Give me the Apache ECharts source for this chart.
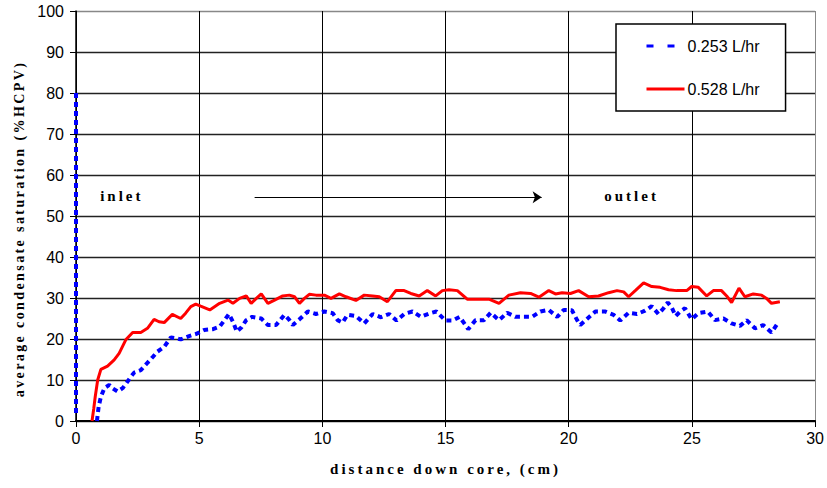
<!DOCTYPE html>
<html>
<head>
<meta charset="utf-8">
<script src="https://cdn.jsdelivr.net/npm/echarts@6/dist/echarts.min.js"></script>
<style>
html,body{margin:0;padding:0;background:#fff;}
#chart{width:827px;height:488px;}
#chart text[style*="Serif"]{letter-spacing:3px;}
#chart text[style*="14px"][style*="Serif"]{letter-spacing:2.4px;}
</style>
</head>
<body>
<div id="chart"></div>
<script>
// ---- data ----
var seriesNames = ['0.253 L/hr', '0.528 L/hr'];
var xTicks = [0, 5, 10, 15, 20, 25, 30];
var yTicks = [0, 10, 20, 30, 40, 50, 60, 70, 80, 90, 100];

var blueX = [0, 0, null, 0.85, 0.92, 1.01, 1.15, 1.35, 1.48, 1.69, 1.89, 2.02, 2.23, 2.36, 2.63, 2.9, 3.1, 3.3, 3.58, 3.85, 4.05, 4.25, 4.59, 4.86, 5.2, 5.56, 5.83, 6.03, 6.21, 6.37, 6.53, 6.71, 6.91, 7.15, 7.52, 7.79, 8.12, 8.46, 8.64, 8.8, 9.07, 9.41, 9.74, 10.08, 10.42, 10.62, 10.82, 11.02, 11.36, 11.7, 12.04, 12.38, 12.71, 13.01, 13.32, 13.66, 14.0, 14.33, 14.63, 15.0, 15.28, 15.57, 15.76, 15.92, 16.22, 16.56, 16.83, 17.17, 17.5, 17.84, 18.18, 18.51, 18.85, 19.19, 19.53, 19.8, 20.13, 20.34, 20.47, 20.74, 21.08, 21.49, 21.82, 22.09, 22.43, 22.77, 23.1, 23.37, 23.64, 23.85, 24.02, 24.18, 24.34, 24.52, 24.72, 24.99, 25.26, 25.64, 25.94, 26.28, 26.61, 26.95, 27.22, 27.56, 27.89, 28.23, 28.47];
var blueY = [80, 1, null, 0, 3.5, 5.9, 8, 8.8, 8, 7.2, 8, 9, 10.8, 11.8, 12.4, 14.2, 15.5, 16.9, 18.1, 20.4, 20.2, 19.9, 20.7, 21.2, 22.2, 22.4, 23, 24.6, 26.1, 24.2, 21.8, 22.8, 24.6, 25.4, 25, 23.4, 23.4, 25.9, 24.8, 23.4, 24.8, 26.7, 26.1, 26.7, 26.3, 24.6, 24, 25.9, 25.6, 23.8, 26.1, 25.3, 26.1, 24.5, 26.1, 26.7, 25.4, 26.2, 26.7, 24.5, 24.5, 25.4, 23.8, 22.4, 24.6, 24.6, 26.4, 24.6, 26.4, 25.4, 25.4, 25.4, 26.7, 27.1, 25.4, 27.1, 27, 24.6, 23.4, 24.9, 26.7, 26.7, 25.9, 24.5, 26.4, 26.1, 26.9, 28, 26.1, 27.5, 28.9, 27.7, 25.6, 26.7, 27.5, 24.8, 26.3, 26.7, 24.6, 25, 23.8, 23.2, 24.6, 22.6, 23.4, 21.6, 23.7];

var redX = [0.65, 0.72, 0.78, 0.88, 1.01, 1.28, 1.55, 1.75, 2.02, 2.3, 2.63, 2.9, 3.17, 3.37, 3.58, 3.91, 4.25, 4.45, 4.66, 4.86, 5.06, 5.43, 5.83, 6.17, 6.37, 6.64, 6.91, 7.11, 7.32, 7.52, 7.79, 8.06, 8.39, 8.66, 8.87, 9.07, 9.27, 9.47, 9.74, 10.08, 10.35, 10.69, 10.96, 11.36, 11.7, 12.04, 12.31, 12.64, 12.98, 13.32, 13.59, 13.93, 14.26, 14.6, 14.87, 15.14, 15.48, 15.88, 16.36, 16.76, 17.17, 17.57, 18.04, 18.45, 18.79, 19.19, 19.46, 19.73, 20.07, 20.4, 20.81, 21.21, 21.62, 21.96, 22.23, 22.43, 22.7, 23.04, 23.37, 23.71, 24.05, 24.38, 24.79, 24.99, 25.26, 25.6, 25.87, 26.2, 26.41, 26.61, 26.91, 27.15, 27.49, 27.83, 28.03, 28.23, 28.57];
var redY = [0, 3, 5.9, 10, 12.6, 13.4, 14.9, 16.5, 19.8, 21.6, 21.6, 22.6, 24.8, 24.2, 24, 26, 25, 26.3, 27.9, 28.5, 28, 27.1, 28.7, 29.5, 28.7, 29.9, 30.5, 28.7, 29.9, 31, 28.7, 29.5, 30.5, 30.7, 30.3, 28.7, 29.9, 30.9, 30.7, 30.7, 29.9, 31, 30.3, 29.4, 30.7, 30.5, 30.3, 29.1, 31.8, 31.8, 31.1, 30.5, 31.8, 30.5, 31.8, 32, 31.8, 29.7, 29.7, 29.7, 28.7, 30.7, 31.3, 31.1, 30.2, 31.8, 31, 31.3, 31.1, 31.8, 30.3, 30.5, 31.3, 31.8, 31.5, 30.3, 31.8, 33.7, 32.8, 32.6, 32, 31.8, 31.8, 32.8, 32.6, 30.5, 31.8, 31.8, 30.5, 28.9, 32.4, 30.3, 31, 30.7, 29.9, 28.7, 29.1];

var annotationTexts = ['inlet', 'outlet'];
var annotationX = [1.86, 22.55];
var annotationY = [54.9, 54.9];
var arrowX = [7.25, 18.9];
var arrowY = [54.6, 54.6];

function pairs(xs, ys) {
  return xs.map(function (x, i) {
    return (x === null || ys[i] === null) ? [NaN, '-'] : [x, ys[i]];
  });
}

var chart = echarts.init(document.getElementById('chart'), null, { renderer: 'svg' });
var serifBold = { fontFamily: 'Liberation Serif', fontWeight: 'bold', color: '#000' };

var ySplitColors = yTicks.map(function (v, i) { return i === yTicks.length - 1 ? '#888' : '#222'; });
var xSplitColors = xTicks.map(function (v, i) { return i === xTicks.length - 1 ? '#888' : '#000'; });

chart.setOption({
  animation: false,
  backgroundColor: '#fff',
  grid: { left: 76, right: 10, top: 11, bottom: 67, containLabel: false },
  legend: {
    left: 616, top: 24,
    orient: 'vertical',
    backgroundColor: '#fff',
    borderColor: '#000', borderWidth: 1.5, borderRadius: 0,
    padding: [14, 26, 14, 29],
    itemWidth: 38, itemHeight: 14, itemGap: 27,
    textStyle: { fontFamily: 'Liberation Sans', fontSize: 16, color: '#000', padding: [0, 0, 0, -2] },
    data: [
      { name: seriesNames[0], itemStyle: { opacity: 0 }, lineStyle: { type: [7, 14], width: 3, color: '#0000ff' } },
      { name: seriesNames[1], itemStyle: { opacity: 0 }, lineStyle: { width: 3, color: '#ff0000' } }
    ]
  },
  xAxis: {
    type: 'value', min: 0, max: 30, interval: 5,
    name: 'distance down core, (cm)', nameLocation: 'middle', nameGap: 40,
    nameTextStyle: Object.assign({ fontSize: 15 }, serifBold),
    axisLine: { show: true, onZero: false, lineStyle: { color: '#000', width: 2 } },
    axisTick: { show: true, inside: false, length: 6, lineStyle: { color: '#000', width: 1 } },
    axisLabel: { margin: 9, fontFamily: 'Liberation Sans', fontSize: 16, color: '#000',
      formatter: function (v) { return xTicks.indexOf(v) >= 0 ? String(v) : ''; } },
    splitLine: { show: true, lineStyle: { color: xSplitColors, width: 1 } }
  },
  yAxis: {
    type: 'value', min: 0, max: 100, interval: 10,
    name: 'average condensate saturation (%HCPV)', nameLocation: 'middle', nameGap: 49,
    nameTextStyle: Object.assign({ fontSize: 14, padding: [0, 26, 0, 0] }, serifBold),
    axisLine: { show: true, onZero: false, lineStyle: { color: '#000', width: 1.5 } },
    axisTick: { show: true, inside: false, length: 6, lineStyle: { color: '#000', width: 1 } },
    axisLabel: { margin: 12, fontFamily: 'Liberation Sans', fontSize: 16, color: '#000',
      formatter: function (v) { return yTicks.indexOf(v) >= 0 ? String(v) : ''; } },
    splitLine: { show: true, lineStyle: { color: ySplitColors, width: 1.3 } }
  },
  series: [
    {
      name: seriesNames[0], type: 'line', data: pairs(blueX, blueY),
      symbol: 'none', connectNulls: false, z: 3,
      lineStyle: { color: '#0000ff', width: 4, type: [5, 4], cap: 'butt' },
      itemStyle: { color: '#0000ff' }
    },
    {
      name: seriesNames[1], type: 'line', data: pairs(redX, redY),
      symbol: 'none', z: 4,
      lineStyle: { color: '#ff0000', width: 3, type: 'solid' },
      itemStyle: { color: '#ff0000' }
    },
    {
      name: 'annotations', type: 'line', data: [], silent: true,
      itemStyle: { color: '#000' },
      markLine: {
        silent: true, animation: false,
        symbol: ['none', 'arrow'], symbolSize: 9,
        label: { show: false },
        itemStyle: { color: '#000' },
        lineStyle: { color: '#000', width: 1, type: 'solid' },
        data: [[{ coord: [arrowX[0], arrowY[0]] }, { coord: [arrowX[1], arrowY[1]] }]]
      },
      markPoint: {
        silent: true, animation: false,
        symbol: 'circle', symbolSize: 0,
        label: Object.assign({ show: true, position: 'inside', fontSize: 15, formatter: '{b}' }, serifBold),
        data: annotationTexts.map(function (t, i) {
          return { name: t, coord: [annotationX[i], annotationY[i]] };
        })
      }
    }
  ]
});
</script>
</body>
</html>
